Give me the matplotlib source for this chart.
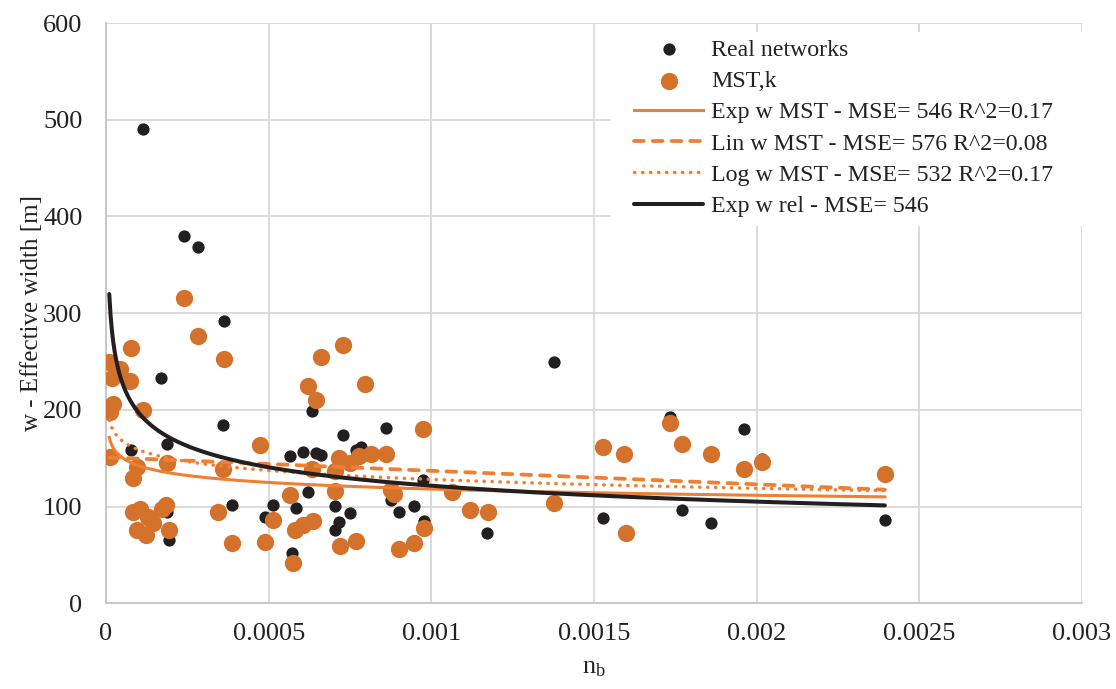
import numpy as np
import matplotlib
matplotlib.use("Agg")
import matplotlib.pyplot as plt
from matplotlib.patches import Rectangle

plt.rcParams["font.family"] = ["Liberation Serif", "DejaVu Serif"]
plt.rcParams["mathtext.default"] = "regular"

# Real networks: node density n_b and effective width w [m]
real_x = [0.000115, 0.00024, 0.000284, 0.000362, 0.000168, 0.00036, 0.000186,
          0.000076, 0.000567, 0.000606, 0.000647, 0.000662, 0.000634, 0.000727,
          0.000621, 0.000386, 0.000512, 0.000488, 0.000583, 0.000703, 0.000186,
          0.000194, 0.000703, 0.000572, 0.001376, 0.00086, 0.000768, 0.000785,
          0.000973, 0.000875, 0.00075, 0.0009, 0.000947, 0.000717, 0.000978,
          0.001172, 0.001735, 0.00196, 0.002017, 0.001527, 0.001771, 0.00186,
          0.002394]
real_w = [490, 380, 368, 292, 233, 184, 165,
          159, 152, 156, 155, 153, 199, 174,
          115, 102, 102, 89, 99, 101, 94,
          65, 76, 52, 250, 181.5, 158, 162,
          128, 107, 93, 94, 101, 84, 85,
          73, 192.5, 180, 149, 88.5, 96, 83,
          86.5]

# MST,k networks
mst_x = [0.00024, 0.000284, 0.000076, 0.000362, 0.00001, 0.000043, 0.000017,
         0.000074, 0.000022, 0.000012, 0.000115, 0.000473, 0.000012, 0.000186,
         0.000094, 0.00036, 0.000084, 0.000621, 0.000647, 0.000662, 0.000729,
         0.000634, 0.000565, 0.000703, 0.000345, 0.000512, 0.000084, 0.000104,
         0.00013, 0.000145, 0.000171, 0.000184, 0.000096, 0.000123, 0.000194,
         0.000388, 0.00049, 0.00058, 0.000606, 0.000637, 0.000719, 0.000575,
         0.000795, 0.000973, 0.000717, 0.000778, 0.000816, 0.00086, 0.00075,
         0.000703, 0.000877, 0.000885, 0.001062, 0.001118, 0.001174, 0.001376,
         0.000978, 0.000768, 0.0009, 0.000947, 0.001735, 0.001527, 0.001592,
         0.001771, 0.00186, 0.001962, 0.002017, 0.002394, 0.001599]
mst_w = [316, 276, 264, 253, 250, 242.5, 233,
         230, 206, 198, 199.4, 164, 151, 145,
         141, 139, 129.5, 225, 210, 255, 267.5,
         139, 112, 116, 94, 86, 94, 97,
         89, 83, 98, 102, 76, 71, 75.4,
         62, 63, 76, 81, 85, 59, 42,
         227, 180.5, 150, 152, 154, 154, 145,
         137, 117, 113, 115, 96, 94, 104,
         78, 64, 56, 62, 186, 162, 154,
         165, 154, 139, 146, 134, 73]

# Trend-line parameters
exp_mst = (67.5, -0.081)      # w = a * n^b
lin_mst = (151.0, -14000.0)   # w = a + b * n
log_mst = (36.2, -13.3)       # w = a + b * ln(n)
exp_rel = (28.5, -0.21)       # w = a * n^b

legend_labels = ["Real networks", "MST,k",
                 "Exp w MST - MSE= 546 R^2=0.17",
                 "Lin w MST - MSE= 576 R^2=0.08",
                 "Log w MST - MSE= 532 R^2=0.17",
                 "Exp w rel - MSE= 546"]

x_ticks = [0, 0.0005, 0.001, 0.0015, 0.002, 0.0025, 0.003]
x_tick_labels = ["0", "0.0005", "0.001", "0.0015", "0.002", "0.0025", "0.003"]
y_ticks = [0, 100, 200, 300, 400, 500, 600]

W, H = 1116, 689
fig = plt.figure(figsize=(W / 100, H / 100), dpi=100)
ax = fig.add_axes([106 / W, 1 - 603.3 / H, 976 / W, 580.3 / H])

c_black = "#231f20"
c_dot = "#d4712b"
c_line = "#ee7f33"
c_text = "#222222"

ax.scatter(real_x, real_w, s=78, color=c_black, linewidths=0, zorder=3,
           label=legend_labels[0])
ax.scatter(mst_x, mst_w, s=155, color=c_dot, linewidths=0, zorder=4,
           label=legend_labels[1])

xs = np.linspace(min(mst_x), max(mst_x), 600)
ax.plot(xs, exp_mst[0] * xs ** exp_mst[1], color=c_line, lw=2.2, zorder=5,
        label=legend_labels[2])
ax.plot(xs, lin_mst[0] + lin_mst[1] * xs, color=c_line, lw=2.7, zorder=5,
        linestyle=(0, (2.6, 2.4)), dash_capstyle="round",
        label=legend_labels[3])
ax.plot(xs, log_mst[0] + log_mst[1] * np.log(xs), color=c_line, lw=2.5,
        zorder=5, linestyle=(0, (0.1, 2.2)), dash_capstyle="round",
        label=legend_labels[4])
ax.plot(xs, exp_rel[0] * xs ** exp_rel[1], color=c_black, lw=2.9, zorder=5,
        solid_capstyle="round", label=legend_labels[5])

ax.set_xlim(0, 0.003)
ax.set_ylim(0, 600)
ax.set_xticks(x_ticks)
ax.set_xticklabels(x_tick_labels)
ax.set_yticks(y_ticks)

ax.set_axisbelow(True)
ax.grid(True, color="#d9d9d9", lw=1.3)
for side in ("top", "right"):
    ax.spines[side].set_visible(False)
for side in ("left", "bottom"):
    ax.spines[side].set_color("#c4c4c4")
    ax.spines[side].set_linewidth(1.3)
ax.tick_params(axis="both", length=0, labelsize=19, labelcolor=c_text)
ax.tick_params(axis="y", pad=17)
ax.tick_params(axis="x", pad=14)

ax.set_ylabel("w - Effective width [m]", fontsize=18, color=c_text,
              labelpad=0)
ax.set_xlabel(r"$\mathregular{n_b}$", fontsize=19, color=c_text,
              labelpad=9)

# White backdrop behind the legend entries
ax.add_patch(Rectangle((610 / W, 1 - 226 / H), (1083 - 610) / W, (226 - 32) / H,
                       transform=fig.transFigure, facecolor="white",
                       edgecolor="none", zorder=1.5, clip_on=False))

leg = ax.legend(loc="upper left", bbox_to_anchor=(634 / W, 1 - 39 / H),
                bbox_transform=fig.transFigure, frameon=False, fontsize=17.2,
                borderpad=0, borderaxespad=0, handlelength=2.9,
                handletextpad=0.33, labelspacing=0.40, scatterpoints=1)
for t in leg.get_texts():
    t.set_color(c_text)
leg.set_zorder(6)

fig.savefig("out.png", dpi=100)
